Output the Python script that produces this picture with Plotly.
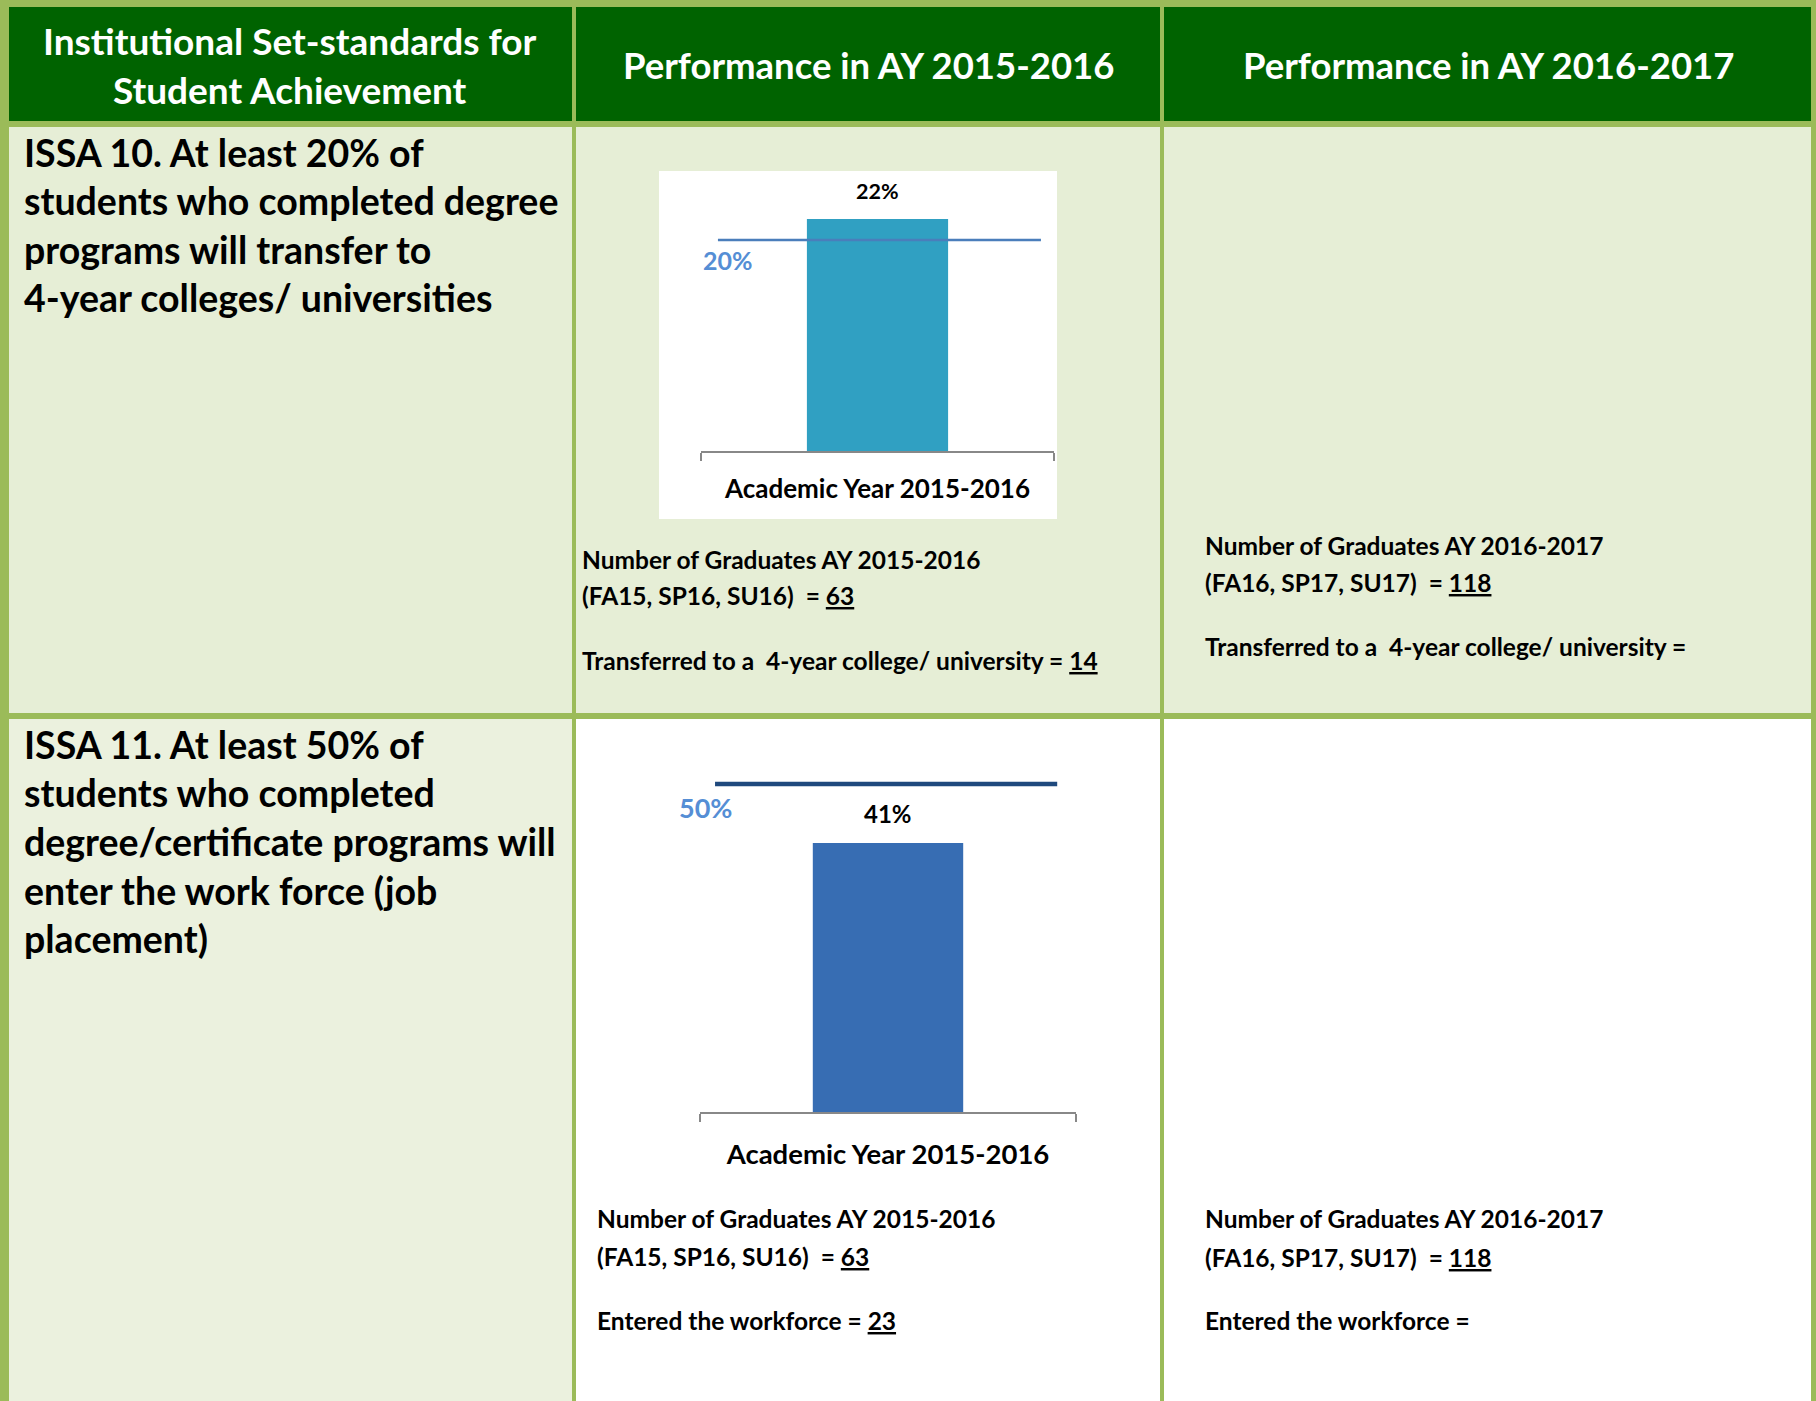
import plotly.graph_objects as go

# ---------------- data ----------------
categories = ["Academic Year 2015-2016"]
transfer_rate = [22]          # % transferred to 4-year college, AY 2015-2016
transfer_target = 20          # ISSA 10 set-standard (%)
workforce_rate = [41]         # % entered workforce, AY 2015-2016
workforce_target = 50         # ISSA 11 set-standard (%)

grads_1516 = 63
grads_1617 = 118
transferred_1516 = 14
workforce_1516 = 23

header_col1 = ["Institutional Set-standards for", "Student Achievement"]
header_col2 = "Performance in AY 2015-2016"
header_col3 = "Performance in AY 2016-2017"

issa10_lines = ["ISSA 10. At least 20% of", "students who completed degree",
                "programs will transfer to", "4-year colleges/ universities"]
issa11_lines = ["ISSA 11. At least 50% of", "students who completed",
                "degree/certificate programs will", "enter the work force (job",
                "placement)"]

# ---------------- layout helpers ----------------
W, H = 1816, 1401
FONT = "Lato"


def px(x):
    return x / W


def py(y):
    return 1 - y / H


BORDER = "#9BBB59"
HEADER = "#006300"
ROW1 = "#E6EED6"
ROW2C1 = "#EBF1DE"

fig = go.Figure()

# bars
fig.add_trace(go.Bar(x=categories, y=transfer_rate, width=0.4,
                     marker=dict(color="#30A0C2", line=dict(width=0)),
                     xaxis="x", yaxis="y", showlegend=False, hoverinfo="skip"))
fig.add_trace(go.Bar(x=categories, y=workforce_rate, width=0.4,
                     marker=dict(color="#376DB3", line=dict(width=0)),
                     xaxis="x2", yaxis="y2", showlegend=False, hoverinfo="skip"))

shapes = []


def rect(x0, y0, x1, y1, color):
    shapes.append(dict(type="rect", xref="paper", yref="paper",
                       x0=px(x0), x1=px(x1), y0=py(y1), y1=py(y0),
                       fillcolor=color, line=dict(width=0), layer="below"))


# header cells
rect(9, 7, 572, 121, HEADER)
rect(576, 7, 1160, 121, HEADER)
rect(1164, 7, 1811, 121, HEADER)
# row 1
rect(9, 127, 572, 713, ROW1)
rect(576, 127, 1160, 713, ROW1)
rect(1164, 127, 1811, 713, ROW1)
# row 2
rect(9, 719, 572, 1401, ROW2C1)
rect(576, 719, 1160, 1401, "#FFFFFF")
rect(1164, 719, 1811, 1401, "#FFFFFF")
# white chart panel for chart 1
rect(659, 171, 1057, 519, "#FFFFFF")

# target lines
shapes.append(dict(type="line", xref="x domain", yref="y",
                   x0=0.048, x1=0.963, y0=transfer_target, y1=transfer_target,
                   line=dict(color="#4A7EBB", width=2.5)))
shapes.append(dict(type="line", xref="x2 domain", yref="y2",
                   x0=0.04, x1=0.95, y0=workforce_target, y1=workforce_target,
                   line=dict(color="#1F497D", width=4.5)))

annotations = []


def text(x, y, s, size, color="black", anchor="left"):
    annotations.append(dict(x=px(x), y=py(y), xref="paper", yref="paper",
                            text="<b>" + s + "</b>", showarrow=False,
                            xanchor=anchor, yanchor="middle",
                            font=dict(family=FONT, size=size, color=color)))


# headers
text(290, 40, header_col1[0], 37, "white", "center")
text(290, 89, header_col1[1], 37, "white", "center")
text(868, 65, header_col2, 36.5, "white", "center")
text(1488, 65, header_col3, 36.5, "white", "center")

# row labels
for i, s in enumerate(issa10_lines):
    text(22, 152 + i * 48.5, s, 37.5)
for i, s in enumerate(issa11_lines):
    text(22, 744 + i * 48.7, s, 37.5)

# detail texts
SMALL = 24.5
text(580, 559, f"Number of Graduates AY 2015-2016", SMALL)
text(580, 596, f"(FA15, SP16, SU16)  = <u>{grads_1516}</u>", SMALL)
text(580, 661, f"Transferred to a  4-year college/ university = <u>{transferred_1516}</u>", SMALL)

text(1203, 545, f"Number of Graduates AY 2016-2017", SMALL)
text(1203, 583, f"(FA16, SP17, SU17)  = <u>{grads_1617}</u>", SMALL)
text(1203, 646, "Transferred to a  4-year college/ university =", SMALL)

text(595, 1218, f"Number of Graduates AY 2015-2016", SMALL)
text(595, 1256, f"(FA15, SP16, SU16)  = <u>{grads_1516}</u>", SMALL)
text(595, 1320, f"Entered the workforce = <u>{workforce_1516}</u>", SMALL)

text(1203, 1218, f"Number of Graduates AY 2016-2017", SMALL)
text(1203, 1257, f"(FA16, SP17, SU17)  = <u>{grads_1617}</u>", SMALL)
text(1203, 1320, "Entered the workforce =", SMALL)

# chart value labels
annotations.append(dict(x=categories[0], y=transfer_rate[0], xref="x", yref="y",
                        text=f"<b>{transfer_rate[0]}%</b>", showarrow=False,
                        yanchor="bottom", yshift=13,
                        font=dict(family=FONT, size=21.5, color="black")))
annotations.append(dict(x=0.0, y=transfer_target, xref="x domain", yref="y",
                        text=f"<b>{transfer_target}%</b>", showarrow=False,
                        xanchor="left", yanchor="top", yshift=-3,
                        font=dict(family=FONT, size=25, color="#558ED5")))
annotations.append(dict(x=categories[0], y=workforce_rate[0], xref="x2", yref="y2",
                        text=f"<b>{workforce_rate[0]}%</b>", showarrow=False,
                        yanchor="bottom", yshift=13,
                        font=dict(family=FONT, size=24, color="black")))
annotations.append(dict(x=-0.062, y=workforce_target, xref="x2 domain", yref="y2",
                        text=f"<b>{workforce_target}%</b>", showarrow=False,
                        xanchor="left", yanchor="top", yshift=-5,
                        font=dict(family=FONT, size=27, color="#558ED5")))

axis_common = dict(type="category", showline=True, linecolor="#888888", linewidth=1.5,
                   ticks="outside", tickson="boundaries", ticklen=8,
                   tickcolor="#888888", tickwidth=1.5, showgrid=False,
                   zeroline=False, range=[-0.5, 0.5], fixedrange=True)

fig.update_layout(
    width=W, height=H,
    margin=dict(l=0, r=0, t=0, b=0),
    paper_bgcolor=BORDER,
    plot_bgcolor="rgba(0,0,0,0)",
    showlegend=False,
    xaxis=dict(domain=[px(701), px(1054)], anchor="y",
               tickfont=dict(family=FONT, size=26, color="black"),
               ticklabelstandoff=14,
               tickprefix="<b>", ticksuffix="</b>", **axis_common),
    yaxis=dict(domain=[py(451), py(171)], anchor="x",
               range=[0, transfer_rate[0] * (451 - 171) / (451 - 219)],
               visible=False, fixedrange=True),
    xaxis2=dict(domain=[px(700), px(1076)], anchor="y2",
                tickfont=dict(family=FONT, size=27.5, color="black"),
                ticklabelstandoff=17,
                tickprefix="<b>", ticksuffix="</b>", **axis_common),
    yaxis2=dict(domain=[py(1112), py(760)], anchor="x2",
                range=[0, workforce_rate[0] * (1112 - 760) / (1112 - 843)],
                visible=False, fixedrange=True),
    shapes=shapes,
    annotations=annotations,
)

fig.write_html("out.html", config={"displayModeBar": False},
               post_script="document.body.style.margin='0';document.body.style.overflow='hidden';")
